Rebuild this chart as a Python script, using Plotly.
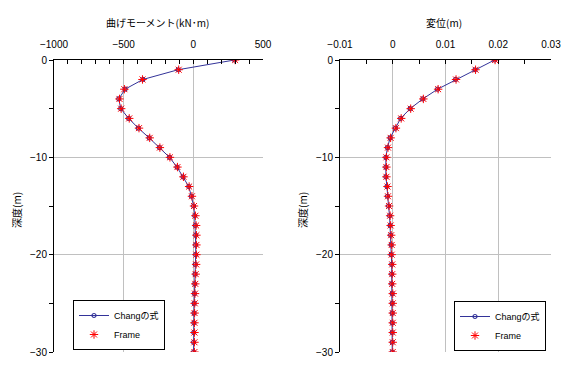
import plotly.graph_objects as go

depth = [0, -1, -2, -3, -4, -5, -6, -7, -8, -9, -10, -11, -12, -13, -14, -15,
         -16, -17, -18, -19, -20, -21, -22, -23, -24, -25, -26, -27, -28, -29, -30]

moment_chang = [295, -109, -362, -490, -535, -521, -464, -395, -317, -243, -171,
                -117, -74, -33, -14, 2, 10, 14, 17, 17, 17, 14, 12, 10, 8, 6,
                5, 4, 3, 2, 2]
moment_frame = [300, -105, -365, -495, -530, -518, -460, -390, -313, -240, -168,
                -114, -71, -30, -10, 5, 15, 20, 22, 22, 22, 20, 17, 14, 12, 10,
                9, 8, 8, 8, 8]

disp_chang = [0.0193, 0.0156, 0.0119, 0.0085, 0.0057, 0.0033, 0.0015, 0.0005,
              -0.0005, -0.0010, -0.0013, -0.0013, -0.0013, -0.0011, -0.0010,
              -0.0008, -0.0006, -0.0005, -0.0004, -0.0003, -0.0003, -0.0002,
              -0.0002, -0.0002, -0.0001, -0.0001, -0.0001, -0.0001, -0.0001,
              -0.0001, -0.0001]
disp_frame = [0.0194, 0.0157, 0.0120, 0.0086, 0.0058, 0.0034, 0.0016, 0.0006,
              -0.0004, -0.0009, -0.0012, -0.0012, -0.0012, -0.0010, -0.0009,
              -0.0007, -0.0005, -0.0004, -0.0003, -0.0002, -0.0002, -0.0001,
              -0.0001, -0.0001, 0.0000, 0.0000, 0.0000, 0.0000, 0.0000,
              0.0000, 0.0000]

name_chang = "Changの式"
name_frame = "Frame"
title_moment = "曲げモーメント(kN･m)"
title_disp = "変位(m)"
title_depth = "深度(m)"

# page body has an 8px default margin; figure sized to fit inside the window
OFF = 8
W, H = 564, 352


def px(x):
    return (x - OFF) / W


def py(y):
    return 1 - (y - OFF) / H


FONT = "Liberation Sans, Arial, Noto Sans CJK JP"
LINE = "#333399"
RED = "#FF0000"
GRID = "#C0C0C0"

fig = go.Figure()


def add_pair(xc, xf, xa, ya, leg):
    fig.add_trace(go.Scatter(
        x=xc, y=depth, xaxis=xa, yaxis=ya, name=name_chang, legend=leg,
        mode="lines+markers",
        line=dict(color=LINE, width=1),
        marker=dict(symbol="circle-open", size=4, color=LINE, line=dict(width=1.2, color=LINE)),
    ))
    fig.add_trace(go.Scatter(
        x=xf, y=depth, xaxis=xa, yaxis=ya, name=name_frame, legend=leg,
        mode="markers",
        marker=dict(symbol="asterisk-open", size=7, color=RED, line=dict(width=1, color=RED)),
    ))


add_pair(moment_chang, moment_frame, "x", "y", "legend")
add_pair(disp_chang, disp_frame, "x2", "y2", "legend2")

ydom = [py(352), py(60)]

xcommon = dict(
    side="top", showline=True, linecolor="black", linewidth=1,
    ticks="inside", ticklen=4, tickcolor="black",
    showgrid=True, gridcolor=GRID, gridwidth=1, zeroline=False,
    tickfont=dict(family=FONT, size=10, color="black"),
    ticklabelstandoff=7, automargin=False,
    fixedrange=True,
)
ycommon = dict(
    range=[-30, 0], dtick=10, tick0=0,
    showline=True, linecolor="black", linewidth=1,
    ticks="outside", ticklen=4, tickcolor="black",
    showgrid=True, gridcolor=GRID, gridwidth=1, zeroline=False,
    minor=dict(dtick=5, ticks="outside", ticklen=4, tickcolor="black", showgrid=False),
    tickfont=dict(family=FONT, size=10, color="black"),
    automargin=False, fixedrange=True,
    domain=ydom,
)

legcommon = dict(
    xanchor="left", yanchor="top",
    bordercolor="black", borderwidth=1, bgcolor="white",
    font=dict(family=FONT, size=9, color="black"),
    tracegroupgap=0, itemwidth=30,
)

fig.update_layout(
    width=W, height=H,
    margin=dict(l=0, r=0, t=0, b=0),
    paper_bgcolor="white", plot_bgcolor="white",
    xaxis=dict(xcommon, range=[-1000, 500], dtick=500, tick0=0,
               minor=dict(dtick=100, ticks="inside", ticklen=4, tickcolor="black", showgrid=False),
               domain=[px(54), px(263)], anchor="y"),
    yaxis=dict(ycommon, anchor="x"),
    xaxis2=dict(xcommon, range=[-0.01, 0.03], dtick=0.01, tick0=0,
                minor=dict(dtick=0.005, ticks="inside", ticklen=4, tickcolor="black", showgrid=False),
                domain=[px(340), px(551)], anchor="y2"),
    yaxis2=dict(ycommon, anchor="x2"),
    legend=dict(legcommon, x=px(73), y=py(300)),
    legend2=dict(legcommon, x=px(454), y=py(301)),
    showlegend=True,
)

ann_font = dict(family="Noto Sans CJK JP", size=10, color="black")
fig.add_annotation(text=title_moment, x=px(157), y=py(22), xref="paper", yref="paper",
                   showarrow=False, font=ann_font, xanchor="center", yanchor="middle")
fig.add_annotation(text=title_disp, x=px(444), y=py(22), xref="paper", yref="paper",
                   showarrow=False, font=ann_font, xanchor="center", yanchor="middle")
fig.add_annotation(text=title_depth, x=px(16), y=py(210), xref="paper", yref="paper",
                   showarrow=False, font=ann_font, textangle=-90, xanchor="center", yanchor="middle")
fig.add_annotation(text=title_depth, x=px(302), y=py(210), xref="paper", yref="paper",
                   showarrow=False, font=ann_font, textangle=-90, xanchor="center", yanchor="middle")

fig.write_html("out.html")
